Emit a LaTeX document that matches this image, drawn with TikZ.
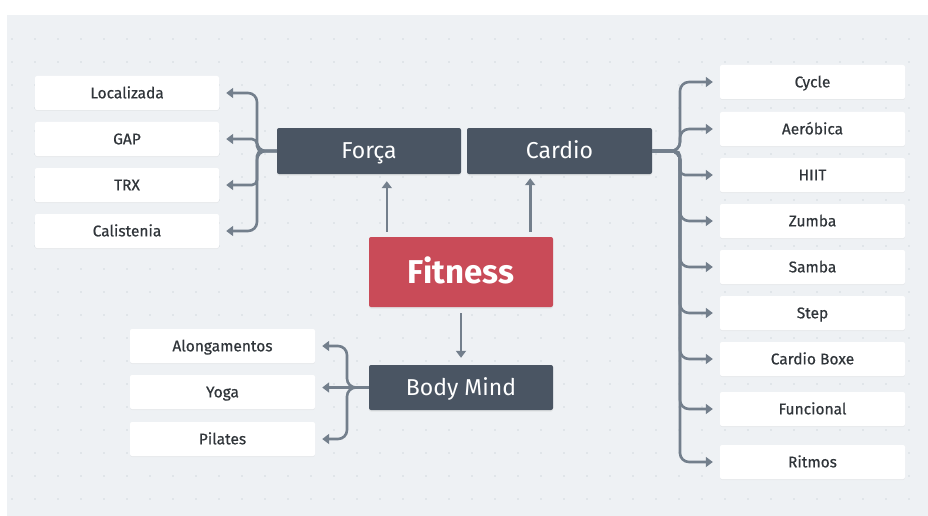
\documentclass[tikz,border=0pt]{standalone}
\usepackage{fontspec}
\setmainfont{Fira Sans}
\newfontfamily\medfont{Fira Sans}[FakeBold=0.5]
\usetikzlibrary{arrows.meta,shadows}
\definecolor{bg}{HTML}{EEF1F4}
\definecolor{dotc}{HTML}{D3D9DF}
\definecolor{dark}{HTML}{4A5563}
\definecolor{redc}{HTML}{C94B58}
\definecolor{linec}{HTML}{737F8C}
\definecolor{txt}{HTML}{30353A}
\begin{document}
\begin{tikzpicture}[x=1pt,y=-1pt,
 leaf/.style={fill=white, rounded corners=2pt, minimum width=184pt, minimum height=34pt, inner sep=0pt,
   font=\medfont\fontsize{15.5}{15.5}\selectfont, text=txt, text height=10.7pt, text depth=0pt,
   drop shadow={opacity=0.07, shadow xshift=0pt, shadow yshift=-1pt}},
 hub/.style={fill=dark, rounded corners=2pt, minimum width=184pt, minimum height=46pt, inner sep=0pt,
   text=white, font=\fontsize{23}{23}\selectfont, text height=15pt, text depth=0pt,
   drop shadow={opacity=0.12, shadow xshift=0pt, shadow yshift=-1.5pt}},
 conn/.style={draw=linec, line width=2.6pt, rounded corners=9pt, shorten >=7pt,
   -{Triangle[length=7pt,width=10pt]}},
 connsm/.style={conn, rounded corners=5pt},
]
\useasboundingbox (0,0) rectangle (928,516);
\fill[bg] (7,15) rectangle (928,516);
\foreach \x in {12,35,...,928} \foreach \y in {39,62,...,516} \fill[dotc] (\x,\y) circle (0.8);

% hubs
\node[hub] (F) at (369,151) {Força};
\node[hub, minimum width=185pt] (C) at (559.5,151) {Cardio};
\node[hub, fill=redc, minimum height=70pt, font=\fontsize{33}{33}\selectfont\bfseries, text height=22.8pt] (Fit) at (461,272) {Fitness};
\node[hub, minimum height=45pt] (BM) at (461,387.5) {Body Mind};

% left leaves
\node[leaf] (L1) at (127,93) {Localizada};
\node[leaf] (L2) at (127,139) {GAP};
\node[leaf] (L3) at (127,185) {TRX};
\node[leaf] (L4) at (127,231) {Calistenia};

% bottom-left leaves
\node[leaf, minimum width=185pt] (B1) at (222.5,346) {Alongamentos};
\node[leaf, minimum width=185pt] (B2) at (222.5,392) {Yoga};
\node[leaf, minimum width=185pt] (B3) at (222.5,439) {Pilates};

% right leaves
\node[leaf, minimum width=185pt] (R1) at (812.5,82) {Cycle};
\node[leaf, minimum width=185pt] (R2) at (812.5,129) {Aeróbica};
\node[leaf, minimum width=185pt] (R3) at (812.5,175) {HIIT};
\node[leaf, minimum width=185pt] (R4) at (812.5,221) {Zumba};
\node[leaf, minimum width=185pt] (R5) at (812.5,267) {Samba};
\node[leaf, minimum width=185pt] (R6) at (812.5,313) {Step};
\node[leaf, minimum width=185pt] (R7) at (812.5,359) {Cardio Boxe};
\node[leaf, minimum width=185pt] (R8) at (812.5,409) {Funcional};
\node[leaf, minimum width=185pt] (R9) at (812.5,462) {Ritmos};

% Fitness to hubs
\draw[conn, shorten <=5pt] ([xshift=18pt]Fit.north west) -- ([xshift=18pt]Fit.north west |- F.south);
\draw[conn, shorten <=5pt, shorten >=4pt] ([xshift=-23pt]Fit.north east) -- ([xshift=-23pt]Fit.north east |- C.south);
\draw[conn, shorten <=6pt] (Fit.south) -- (BM.north);

% Forca brace
\coordinate (FL) at (257,151);
\draw[conn] (F.west) -- (FL) -- (FL |- L1.east) -- (L1.east);
\draw[connsm] (F.west) -- (FL) -- (FL |- L2.east) -- (L2.east);
\draw[connsm] (F.west) -- (FL) -- (FL |- L3.east) -- (L3.east);
\draw[conn] (F.west) -- (FL) -- (FL |- L4.east) -- (L4.east);

% Cardio brace
\coordinate (CR) at (680,151);
\foreach \r in {R1,R2,R4,R5,R6,R7,R8,R9}
  \draw[conn] (C.east) -- (CR) -- (CR |- \r.west) -- (\r.west);
\draw[connsm] (C.east) -- (CR) -- (CR |- R3.west) -- (R3.west);

% Body Mind brace
\coordinate (BL) at (347,387.5);
\draw[conn] (BM.west) -- (BL) -- (BL |- B1.east) -- (B1.east);
\draw[conn] (BM.west) -- (B2.east |- BM.west);
\draw[conn] (BM.west) -- (BL) -- (BL |- B3.east) -- (B3.east);
\end{tikzpicture}
\end{document}
